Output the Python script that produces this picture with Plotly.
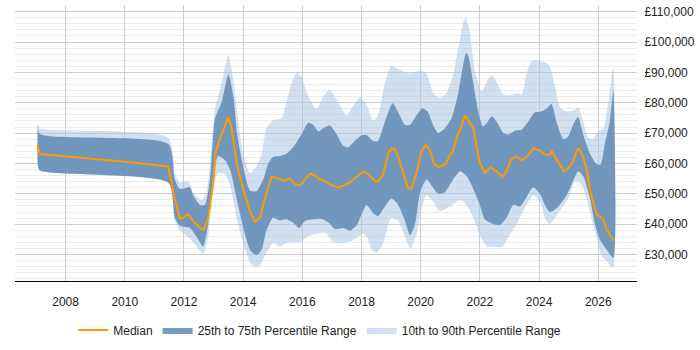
import plotly.graph_objects as go

# ---- data ----
median_years = [2007.05, 2007.13, 2010.0, 2011.3, 2011.47, 2011.69, 2011.86, 2011.92, 2012.14, 2012.31,
                2012.54, 2012.67, 2012.82, 2012.99, 2013.08, 2013.27, 2013.50, 2013.61, 2013.80, 2014.00,
                2014.23, 2014.40, 2014.57, 2014.74, 2014.96, 2015.13, 2015.35, 2015.58, 2015.75, 2015.92,
                2016.09, 2016.26, 2016.42, 2016.59, 2016.76, 2016.99, 2017.21, 2017.44, 2017.67, 2017.89,
                2018.07, 2018.28, 2018.45, 2018.56, 2018.73, 2018.90, 2019.02, 2019.13, 2019.24, 2019.41,
                2019.58, 2019.69, 2019.86, 2020.03, 2020.18, 2020.31, 2020.45, 2020.59, 2020.85, 2020.99,
                2021.10, 2021.23, 2021.35, 2021.50, 2021.66, 2021.78, 2021.89, 2022.00, 2022.17, 2022.36,
                2022.57, 2022.76, 2022.90, 2023.07, 2023.24, 2023.41, 2023.58, 2023.82, 2024.03, 2024.20,
                2024.37, 2024.42, 2024.54, 2024.71, 2024.84, 2024.99, 2025.15, 2025.27, 2025.35, 2025.49,
                2025.61, 2025.72, 2025.85, 2025.96, 2026.17, 2026.28, 2026.39, 2026.51]
median_values = [66000, 63100, 60600, 59300, 59000, 48430, 42110, 41790, 43370, 41070,
                 38760, 38220, 42110, 53720, 64240, 69530, 75310, 71640, 59000, 51600,
                 44230, 40750, 42110, 48700, 55600, 55300, 54250, 54980, 53180, 52670,
                 54760, 56660, 56030, 54760, 54250, 52860, 52130, 52860, 54250, 55830,
                 57420, 56030, 54250, 54030, 56340, 63200, 65010, 64790, 62160, 56880,
                 51600, 51820, 56880, 64240, 66140, 64240, 60040, 58770, 59820, 62670,
                 64240, 68990, 71640, 75850, 73500, 71640, 65320, 60040, 56880, 58770,
                 57420, 55520, 57420, 61620, 62350, 60890, 62160, 65010, 64240, 62980,
                 62790, 64240, 62160, 59510, 57420, 58460, 60580, 64240, 64790, 62160,
                 57930, 51600, 46350, 43180, 41600, 38440, 36320, 34520]

p75_years = [2007.05, 2007.13, 2011.47, 2011.69, 2011.86, 2012.20, 2012.31, 2012.54, 2012.71, 2012.88,
             2013.05, 2013.27, 2013.50, 2013.67, 2013.80, 2014.00, 2014.23, 2014.45, 2014.68, 2014.85,
             2015.01, 2015.24, 2015.46, 2015.69, 2015.97, 2016.20, 2016.37, 2016.54, 2016.71, 2016.93,
             2017.16, 2017.38, 2017.55, 2017.77, 2018.00, 2018.17, 2018.39, 2018.56, 2018.79, 2019.05,
             2019.24, 2019.47, 2019.64, 2019.86, 2020.06, 2020.25, 2020.42, 2020.59, 2020.82, 2021.04,
             2021.27, 2021.44, 2021.53, 2021.61, 2021.78, 2021.95, 2022.10, 2022.23, 2022.40, 2022.57,
             2022.79, 2022.96, 2023.18, 2023.41, 2023.63, 2023.86, 2024.03, 2024.25, 2024.42, 2024.59,
             2024.82, 2024.99, 2025.15, 2025.32, 2025.49, 2025.72, 2025.94, 2026.08, 2026.22, 2026.39,
             2026.51]
p75_values = [73300, 69700, 66400, 54760, 51600, 52130, 49500, 46350, 46350, 54760,
              74800, 80080, 89350, 82170, 69530, 59000, 51100, 50870, 54760, 60000,
              62160, 62480, 63200, 65320, 69530, 73420, 72690, 70580, 71640, 72470,
              69530, 65830, 65320, 67440, 69210, 69300, 67440, 67440, 73730, 79800,
              76890, 72690, 72690, 75850, 78160, 76890, 72690, 70060, 71640, 74800,
              83220, 92700, 96400, 95350, 86380, 76890, 72150, 73220, 75530, 73730,
              70060, 69530, 70790, 71110, 73730, 76890, 77000, 78000, 79550, 73730,
              67940, 68990, 72690, 75310, 69530, 63200, 59820, 59500, 66360, 73730,
              84000]

p90_years = [2007.05, 2007.13, 2011.47, 2011.69, 2011.86, 2012.14, 2012.31, 2012.60, 2012.76, 2012.88,
             2013.05, 2013.27, 2013.50, 2013.67, 2013.84, 2014.00, 2014.23, 2014.45, 2014.62, 2014.79,
             2015.01, 2015.29, 2015.46, 2015.63, 2015.82, 2015.97, 2016.20, 2016.48, 2016.71, 2016.93,
             2017.16, 2017.49, 2017.72, 2017.94, 2018.17, 2018.39, 2018.56, 2018.79, 2019.01, 2019.24,
             2019.64, 2019.98, 2020.20, 2020.42, 2020.65, 2020.87, 2021.10, 2021.27, 2021.44, 2021.52,
             2021.66, 2021.83, 2022.06, 2022.23, 2022.40, 2022.57, 2022.79, 2023.01, 2023.24, 2023.41,
             2023.58, 2023.75, 2024.03, 2024.26, 2024.37, 2024.54, 2024.71, 2024.93, 2025.15, 2025.32,
             2025.49, 2025.66, 2025.83, 2026.00, 2026.17, 2026.33, 2026.48, 2026.51]
p90_values = [73300, 71600, 68500, 56880, 53720, 54250, 50550, 47930, 50550, 59000,
              77960, 86380, 95620, 87440, 73730, 63200, 56880, 59000, 63000, 71640,
              74270, 74800, 80080, 86380, 90100, 88500, 82170, 77960, 82170, 84290,
              81130, 75850, 79010, 81700, 79500, 74000, 75850, 86380, 92200, 91130,
              89550, 90600, 89550, 83220, 81640, 83220, 89550, 97980, 106430, 108010,
              103270, 90610, 83760, 86920, 89040, 86920, 82700, 82380, 83220, 82700,
              89550, 93790, 93800, 93000, 91660, 85340, 78470, 77110, 77430, 78470,
              73730, 68480, 67940, 70580, 71640, 79010, 90610, 91000]

p25_years = [2007.05, 2007.13, 2011.47, 2011.69, 2011.86, 2012.20, 2012.43, 2012.65, 2012.82, 2012.99,
             2013.16, 2013.39, 2013.56, 2013.78, 2014.00, 2014.23, 2014.45, 2014.62, 2014.79, 2015.01,
             2015.24, 2015.46, 2015.69, 2015.89, 2016.09, 2016.37, 2016.65, 2016.88, 2017.10, 2017.38,
             2017.61, 2017.83, 2018.00, 2018.17, 2018.39, 2018.56, 2018.79, 2019.01, 2019.24, 2019.47,
             2019.64, 2019.81, 2019.98, 2020.20, 2020.37, 2020.59, 2020.82, 2021.10, 2021.33, 2021.55,
             2021.78, 2022.00, 2022.17, 2022.45, 2022.68, 2022.90, 2023.13, 2023.35, 2023.58, 2023.80,
             2024.03, 2024.20, 2024.37, 2024.62, 2024.93, 2025.15, 2025.32, 2025.49, 2025.72, 2025.89,
             2026.06, 2026.28, 2026.51]
p25_values = [60000, 57700, 53700, 42110, 39490, 38760, 35790, 32620, 40020, 55830,
              62470, 61080, 57920, 48430, 38950, 31580, 29780, 31500, 37900, 42110,
              41290, 41600, 40530, 38760, 41070, 41600, 41790, 40530, 38440, 38760,
              37900, 39490, 43190, 46350, 43690, 42650, 45810, 48430, 46350, 41070,
              36320, 40020, 50550, 54760, 52670, 50020, 50550, 54760, 57420, 55830,
              51600, 46350, 41600, 40020, 39710, 42110, 46350, 45810, 48970, 52130,
              50000, 46350, 44000, 45500, 49510, 54250, 57420, 55830, 48430, 40020,
              34740, 31580, 28960]

p10_years = [2007.05, 2007.13, 2011.47, 2011.69, 2011.86, 2012.20, 2012.43, 2012.65, 2012.82, 2012.99,
             2013.16, 2013.39, 2013.56, 2013.78, 2014.00, 2014.23, 2014.40, 2014.57, 2014.79, 2015.01,
             2015.24, 2015.46, 2015.69, 2015.89, 2016.15, 2016.59, 2016.82, 2017.04, 2017.27, 2017.61,
             2017.89, 2018.06, 2018.20, 2018.34, 2018.51, 2018.73, 2019.01, 2019.24, 2019.47, 2019.66,
             2019.86, 2020.03, 2020.20, 2020.42, 2020.65, 2020.99, 2021.33, 2021.55, 2021.78, 2022.00,
             2022.23, 2022.45, 2022.74, 2022.96, 2023.24, 2023.52, 2023.80, 2024.03, 2024.20, 2024.35,
             2024.54, 2024.76, 2024.99, 2025.21, 2025.38, 2025.55, 2025.77, 2025.94, 2026.11, 2026.28,
             2026.45, 2026.51]
p10_values = [60000, 57700, 53700, 41070, 37910, 35280, 32620, 30000, 35790, 52670,
              56880, 56340, 52670, 42110, 33700, 27380, 25790, 26500, 30540, 33700,
              32620, 33700, 34210, 33890, 35790, 37050, 36860, 34210, 33700, 34210,
              35790, 37000, 35500, 31580, 30540, 33700, 42110, 41070, 35790, 31900,
              36860, 45270, 49510, 47390, 44230, 45810, 48000, 46350, 42110, 36320,
              32620, 32620, 32430, 35790, 40020, 45270, 49510, 47500, 42110, 40020,
              42110, 45270, 48430, 54250, 53720, 50550, 42110, 35790, 29460, 27880,
              25790, 25700]

x_ticks = [2008, 2010, 2012, 2014, 2016, 2018, 2020, 2022, 2024, 2026]
y_ticks = [30000, 40000, 50000, 60000, 70000, 80000, 90000, 100000, 110000]
y_ticktext = ["\u00a3{:,}".format(v) for v in y_ticks]

LIGHT = "rgba(170,198,228,0.55)"
DARK = "rgba(98,137,180,0.85)"
ORANGE = "#FF9900"
FONT = "Liberation Sans, Arial, sans-serif"

fig = go.Figure()

fig.add_trace(go.Scatter(
    x=p90_years + p10_years[::-1], y=p90_values + p10_values[::-1],
    fill="toself", fillcolor=LIGHT, mode="lines",
    line=dict(width=0, shape="spline", smoothing=0.6),
    name="10th to 90th Percentile Range", legendrank=3, hoverinfo="skip"))

fig.add_trace(go.Scatter(
    x=p75_years + p25_years[::-1], y=p75_values + p25_values[::-1],
    fill="toself", fillcolor=DARK, mode="lines",
    line=dict(width=0, shape="spline", smoothing=0.6),
    name="25th to 75th Percentile Range", legendrank=2, hoverinfo="skip"))

fig.add_trace(go.Scatter(
    x=median_years, y=median_values, mode="lines",
    line=dict(color=ORANGE, width=2),
    name="Median", legendrank=1))

fig.update_layout(
    width=700, height=350,
    margin=dict(l=15, r=63, t=5, b=57),
    paper_bgcolor="white", plot_bgcolor="white",
    font=dict(family=FONT, size=12, color="#222"),
    showlegend=True,
    legend=dict(orientation="h", x=0.49, xanchor="center", y=-0.125, yanchor="top",
                font=dict(family=FONT, size=12, color="#222"),
                itemwidth=30, tracegroupgap=0),
    xaxis=dict(range=[2006.29, 2027.31], tickvals=x_ticks, ticktext=[str(v) for v in x_ticks],
               showgrid=True, gridcolor="#cccccc", gridwidth=1,
               showline=True, linecolor="#000000", linewidth=1,
               ticks="outside", ticklen=10, tickcolor="rgba(0,0,0,0)",
               zeroline=False, fixedrange=True),
    yaxis=dict(range=[21270, 112210], side="right", tickvals=y_ticks, ticktext=y_ticktext,
               showgrid=True, gridcolor="#cccccc", gridwidth=1,
               minor=dict(dtick=2000, tick0=0, showgrid=True, gridcolor="#ebebeb", gridwidth=1),
               showline=False, zeroline=False, ticks="outside", ticklen=4,
               tickcolor="rgba(0,0,0,0)", fixedrange=True),
)

fig.write_html("out.html")
